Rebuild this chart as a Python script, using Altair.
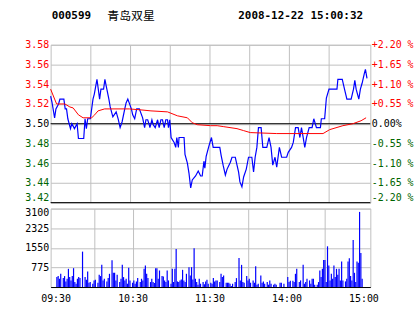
import altair as alt
import pandas as pd

stock_code = "000599"
stock_name = "青岛双星"
stamp = "2008-12-22 15:00:32"

price_ticks = [3.42, 3.44, 3.46, 3.48, 3.50, 3.52, 3.54, 3.56, 3.58]
pct_ticks = [-2.20, -1.65, -1.10, -0.55, 0.00, 0.55, 1.10, 1.65, 2.20]
vol_ticks = [0, 775, 1550, 2325, 3100]
time_ticks = [0, 60, 120, 180, 240]
time_labels = ["09:30", "10:30", "11:30", "14:00", "15:00"]
grid_minutes = [30, 60, 90, 120, 150, 180, 210]
grid_all = [0, 30, 60, 90, 120, 150, 180, 210, 240]
ref_lines_pct = [0.0, -2.20]

price_minute = [0, 1, 3, 4, 6, 7, 10, 11, 12, 13, 15, 16, 18, 20, 21, 25, 26, 27, 28, 30,
                32, 33, 35, 36, 37, 38, 40, 41, 42, 44, 45, 47, 49.5, 51, 52.5, 54, 56, 57, 58.3, 61,
                62, 63.5, 65, 67, 69.5, 71, 72, 73.3, 74.5, 75, 76.5, 77.5, 79, 80.8, 82, 83.3, 84.5, 85.8, 87, 88.3,
                89, 90, 91, 93.3, 94.5, 95.3, 96.5, 97, 100.8, 101.5, 103.3, 104.5, 105.8, 107, 109.5, 111.5, 113.3, 114.5, 115.8, 116.5,
                117.5, 119.5, 121.5, 122.8, 127.8, 128.8, 130.3, 132, 133.3, 135.8, 137, 139.5, 140.8, 142, 143, 144.5, 145.8, 147.8, 149.5, 152,
                153.3, 154.5, 155.8, 157, 159, 160.3, 163.3, 165, 166.5, 167.8, 169.5, 170.8, 172.8, 174.5, 178.3, 179.5, 182, 183.3, 185, 187,
                188.3, 189.5, 190.8, 192, 193.3, 195.3, 197.5, 198.8, 200.8, 203.8, 204.5, 207, 208.3, 210.3, 216.3, 217, 220.3, 222, 223.8, 227,
                228.8, 229.8, 230.8, 232.8, 234, 235.3, 237, 237.8, 239]
price_value = [3.528, 3.522, 3.506, 3.515, 3.520, 3.525, 3.525, 3.515, 3.515, 3.505, 3.495, 3.500, 3.495, 3.500, 3.485, 3.485, 3.505, 3.495, 3.505, 3.505,
               3.525, 3.530, 3.545, 3.535, 3.525, 3.535, 3.535, 3.545, 3.538, 3.525, 3.517, 3.507, 3.512, 3.505, 3.496, 3.502, 3.515, 3.521, 3.525, 3.515,
               3.509, 3.505, 3.515, 3.515, 3.506, 3.496, 3.504, 3.504, 3.499, 3.496, 3.504, 3.499, 3.496, 3.504, 3.496, 3.504, 3.504, 3.496, 3.504, 3.504,
               3.496, 3.504, 3.486, 3.481, 3.476, 3.486, 3.476, 3.486, 3.486, 3.469, 3.460, 3.450, 3.435, 3.443, 3.447, 3.452, 3.447, 3.447, 3.462, 3.455,
               3.467, 3.477, 3.486, 3.476, 3.476, 3.468, 3.458, 3.448, 3.454, 3.461, 3.466, 3.466, 3.458, 3.451, 3.441, 3.436, 3.446, 3.454, 3.466, 3.466,
               3.451, 3.466, 3.476, 3.496, 3.496, 3.476, 3.476, 3.486, 3.476, 3.458, 3.466, 3.456, 3.476, 3.466, 3.466, 3.471, 3.476, 3.481, 3.496, 3.496,
               3.486, 3.496, 3.486, 3.476, 3.486, 3.496, 3.496, 3.505, 3.496, 3.496, 3.505, 3.505, 3.526, 3.535, 3.535, 3.545, 3.545, 3.535, 3.525, 3.525,
               3.535, 3.544, 3.535, 3.525, 3.535, 3.541, 3.551, 3.555, 3.546]

avg_minute = [0, 4.5, 10.8, 14.5, 17, 21, 24.5, 31, 33.3, 35.8, 40.8, 59.5, 68.3, 75.8, 88.3, 95.8, 103.3, 107, 110.8, 120.8,
              125.8, 130.8, 140.8, 145.8, 150.8, 170.8, 205.8, 210.8, 220.8, 228.3, 234.5, 238.3]
avg_value = [3.535, 3.520, 3.520, 3.517, 3.516, 3.509, 3.506, 3.506, 3.509, 3.513, 3.515, 3.515, 3.514, 3.513, 3.512, 3.508, 3.506, 3.501, 3.499, 3.498,
             3.498, 3.497, 3.495, 3.493, 3.491, 3.490, 3.490, 3.494, 3.498, 3.500, 3.503, 3.506]

vol_minute = [1, 2, 3, 4, 6, 7, 8, 9, 10, 11, 12, 13, 14, 15, 16, 17, 18, 19, 21, 23,
              24, 25, 26, 27, 29, 30, 31, 33, 34, 35, 36, 37, 38, 40, 41, 42, 44, 45, 46, 47,
              48, 50, 51, 52, 53, 54, 55, 56, 57, 58, 60, 61, 62, 63, 64, 66, 67, 68, 69, 70,
              71, 72, 74, 75, 76, 77, 78, 79, 80, 81, 83, 84, 85, 86, 87, 88, 90, 91, 92, 93,
              94, 95, 96, 97, 98, 99, 100, 101, 102, 104, 105, 106, 107, 108, 109, 110, 111, 112, 113, 115,
              116, 117, 118, 119, 121, 122, 123, 124, 125, 126, 128, 129, 130, 131, 133, 134, 135, 136, 137, 138,
              140, 141, 143, 144, 145, 146, 147, 149, 150, 151, 152, 154, 155, 156, 157, 158, 160, 161, 162, 163,
              165, 166, 167, 168, 170, 171, 172, 175, 176, 178, 181, 182, 183, 185, 186, 187, 188, 190, 191, 193,
              194, 195, 196, 198, 199, 200, 201, 202, 204, 205, 206, 207, 208, 209, 210, 211, 212, 213, 214, 215,
              216, 217, 218, 219, 220, 221, 222, 223, 224, 226, 227, 228, 229, 230, 231, 232, 233, 234, 235, 236,
              237, 238, 239]
vol_value = [392, 432, 327, 523, 353, 432, 222, 327, 719, 392, 262, 432, 746, 196, 131, 327, 392, 353, 1400, 392,
             288, 615, 170, 196, 131, 262, 288, 170, 484, 432, 876, 262, 327, 222, 353, 523, 1060, 562, 562, 262,
             484, 196, 327, 876, 392, 262, 327, 131, 759, 262, 170, 262, 131, 222, 353, 196, 327, 262, 719, 850,
             523, 353, 196, 327, 196, 157, 746, 746, 327, 654, 432, 419, 262, 196, 654, 262, 131, 719, 196, 719,
             1504, 222, 196, 262, 301, 680, 262, 196, 523, 785, 458, 785, 301, 1530, 327, 196, 92, 327, 131, 196,
             105, 222, 288, 131, 170, 131, 353, 222, 262, 262, 196, 523, 392, 458, 170, 170, 170, 131, 39, 131,
             196, 353, 1151, 262, 876, 196, 170, 432, 262, 327, 170, 262, 170, 824, 92, 131, 458, 170, 222, 131,
             196, 92, 262, 131, 92, 131, 92, 170, 170, 131, 392, 196, 249, 249, 196, 523, 719, 196, 262, 876,
             131, 196, 327, 262, 131, 327, 327, 92, 92, 196, 654, 392, 719, 1073, 1073, 196, 1609, 850, 262, 523,
             327, 850, 392, 719, 484, 719, 262, 1007, 262, 222, 327, 1007, 1138, 432, 262, 1857, 562, 196, 1007, 955,
             2969, 1347, 327]

price_df = pd.DataFrame({"m": price_minute, "p": price_value})
avg_df = pd.DataFrame({"m": avg_minute, "p": avg_value})
vol_df = pd.DataFrame({"m": vol_minute, "v": vol_value})
ref_df = pd.DataFrame({"pct": ref_lines_pct})

GRID = "#c0c0c0"
RED = "#ff0000"
GREEN = "#006400"
MONO = "DejaVu Sans Mono"

xscale = alt.Scale(domain=[0, 241.5], nice=False, zero=False)
pscale = alt.Scale(domain=[3.42, 3.58], nice=False, zero=False)
pctscale = alt.Scale(domain=[-2.2, 2.2], nice=False, zero=False)

x_price = alt.X("m:Q", scale=xscale,
                axis=alt.Axis(values=grid_minutes, labels=False, ticks=False, domain=False,
                              title=None, grid=True, gridColor=GRID))

price_axis = alt.Axis(values=price_ticks, format=".2f", title=None, ticks=False, domain=False,
                      grid=True, gridColor=GRID, labelPadding=2, labelFont=MONO, labelFontSize=10,
                      labelOffset={"condition": {"test": "datum.value < 3.43", "value": -5}, "value": 0},
                      labelColor={"condition": [{"test": "datum.value > 3.505", "value": RED},
                                                {"test": "datum.value < 3.495", "value": GREEN}],
                                  "value": "#000000"})

pct_axis = alt.Axis(orient="right", values=pct_ticks, title=None, ticks=False, domain=False, grid=False,
                    labelPadding=1, labelFont=MONO, labelFontSize=10,
                    labelOffset={"condition": {"test": "datum.value < -2.1", "value": -5}, "value": 0},
                    labelExpr="datum.value > 0.001 ? '+' + format(datum.value, '.2f') + ' %' : "
                              "(datum.value < -0.001 ? '-' + format(abs(datum.value), '.2f') + ' %' : '0.00%')",
                    labelColor={"condition": [{"test": "datum.value > 0.001", "value": RED},
                                              {"test": "datum.value < -0.001", "value": GREEN}],
                                "value": "#000000"})

price_line = alt.Chart(price_df).mark_line(color="#0000ff", strokeWidth=1.2).encode(
    x=x_price, y=alt.Y("p:Q", scale=pscale, axis=price_axis))
avg_line = alt.Chart(avg_df).mark_line(color=RED, strokeWidth=1).encode(
    x=x_price, y=alt.Y("p:Q", scale=pscale, axis=price_axis))

ref_rules = alt.Chart(ref_df).mark_rule(color="#000000", strokeWidth=1).encode(
    y=alt.Y("pct:Q", scale=pctscale, axis=pct_axis))

hdr = pd.DataFrame({"t": [0]})
head_code = alt.Chart(hdr).mark_text(text=stock_code, font=MONO, fontSize=11, fontWeight="bold",
                                     align="left", baseline="middle", color="#000000").encode(
    x=alt.value(1), y=alt.value(-29))
head_name = alt.Chart(hdr).mark_text(text=stock_name, font="Noto Sans CJK SC", fontSize=12,
                                     align="left", baseline="middle", color="#000000").encode(
    x=alt.value(57), y=alt.value(-29))
head_time = alt.Chart(hdr).mark_text(text=stamp, font=MONO, fontSize=11, fontWeight="bold",
                                     align="left", baseline="middle", color="#000000").encode(
    x=alt.value(189), y=alt.value(-29))

inner = alt.layer(price_line, avg_line, head_code, head_name, head_time)
price_panel = alt.layer(ref_rules, inner).resolve_scale(y="independent").properties(width=322, height=159)

label_expr = " : ".join([f"datum.value == {t} ? '{l}'" for t, l in zip(time_ticks, time_labels)]) + " : ''"

vol_x_axis = alt.Axis(values=grid_all, title=None, ticks=False, domain=True, domainColor="#000000",
                      labelExpr=label_expr, labelFont=MONO, labelFontSize=10, labelPadding=7,
                      labelFlush=False, labelColor="#000000", grid=True, gridColor=GRID,
                      gridOpacity={"condition": {"test": "datum.value <= 0 || datum.value >= 240", "value": 0},
                                   "value": 1})
vol_y_axis = alt.Axis(values=vol_ticks, title=None, ticks=False, domain=False, grid=True, gridColor=GRID,
                      labelExpr="datum.value == 0 ? '' : format(datum.value, 'd')", labelFont=MONO,
                      labelFontSize=10, labelPadding=2, labelColor="#000000",
                      labelOffset={"condition": {"test": "datum.value > 3000", "value": 4}, "value": 0})

vol_panel = alt.Chart(vol_df).mark_bar(color="#0000ff", size=1.2).encode(
    x=alt.X("m:Q", scale=xscale, axis=vol_x_axis),
    y=alt.Y("v:Q", scale=alt.Scale(domain=[0, 3100], nice=False), axis=vol_y_axis),
).properties(width=322, height=79)

chart = alt.vconcat(price_panel, vol_panel, spacing=6, bounds="flush").properties(
    padding={"left": 24, "top": 8, "right": 0, "bottom": 0},
    background="#ffffff",
).configure_view(stroke=GRID)

chart.save("out.html", embed_options={"renderer": "svg", "actions": False})
